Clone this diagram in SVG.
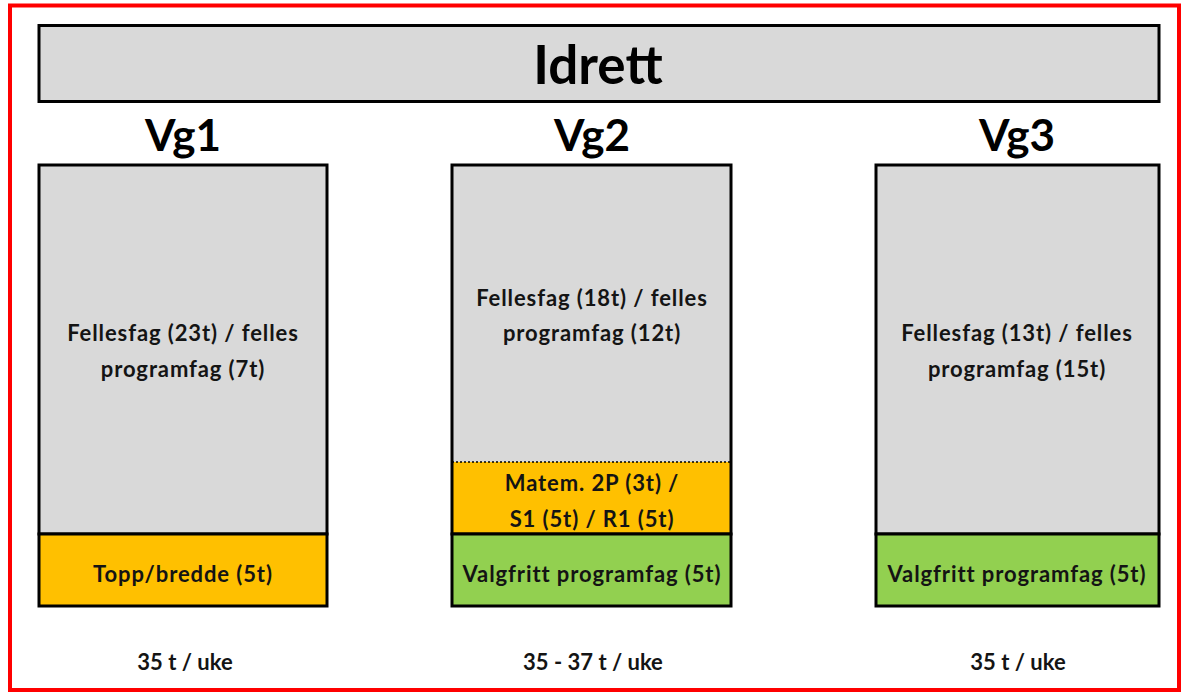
<svg xmlns="http://www.w3.org/2000/svg" width="1182" height="692" viewBox="0 0 1182 692">
<style>
.box{stroke:#000;stroke-width:3}
.g{fill:#D9D9D9}.o{fill:#FFC000}.gr{fill:#92D050}
text{font-family:Lato,"Liberation Sans",sans-serif;font-weight:bold;fill:#141414;text-anchor:middle}
.t{font-size:22px;letter-spacing:0.9px}
.b{font-size:22px}
.h{font-size:44px;fill:#000}
</style>
<rect x="0" y="0" width="1182" height="692" fill="#fff"/>
<rect x="10" y="5.5" width="1169" height="684.5" fill="none" stroke="#f00" stroke-width="4"/>
<g id="title"><rect class="box g" x="39" y="25.5" width="1120" height="76"/><text x="598" y="84" style="font-size:53px;fill:#000">Idrett</text></g>
<g id="vg1">
<text class="h" x="183" y="151">Vg1</text>
<rect class="box g" x="39" y="165" width="288" height="369"/>
<text class="t" x="183" y="341">Fellesfag (23t) / felles</text>
<text class="t" x="183" y="377">programfag (7t)</text>
<rect class="box o" x="39" y="534" width="288" height="72"/>
<text class="t" x="183" y="582">Topp/bredde (5t)</text>
<text class="b" x="185" y="670">35 t / uke</text>
</g>
<g id="vg2">
<text class="h" x="592" y="151">Vg2</text>
<rect class="g" x="452" y="165" width="279" height="297"/>
<rect class="o" x="452" y="462" width="279" height="72"/>
<line x1="452" y1="462" x2="731" y2="462" stroke="#000" stroke-width="1.5" stroke-dasharray="2,2"/>
<rect x="452" y="165" width="279" height="369" fill="none" stroke="#000" stroke-width="3"/>
<text class="t" x="592" y="306">Fellesfag (18t) / felles</text>
<text class="t" x="592" y="341">programfag (12t)</text>
<text class="t" x="592" y="491">Matem. 2P (3t) /</text>
<text class="t" x="592" y="527">S1 (5t) / R1 (5t)</text>
<rect class="box gr" x="452" y="534" width="279" height="72"/>
<text class="t" x="592" y="582">Valgfritt programfag (5t)</text>
<text class="b" x="593" y="670">35 - 37 t / uke</text>
</g>
<g id="vg3">
<text class="h" x="1017" y="151">Vg3</text>
<rect class="box g" x="876" y="165" width="283" height="369"/>
<text class="t" x="1017" y="341">Fellesfag (13t) / felles</text>
<text class="t" x="1017" y="377">programfag (15t)</text>
<rect class="box gr" x="876" y="534" width="283" height="72"/>
<text class="t" x="1017" y="582">Valgfritt programfag (5t)</text>
<text class="b" x="1018" y="670">35 t / uke</text>
</g>
<g id="connectors"/>
</svg>
